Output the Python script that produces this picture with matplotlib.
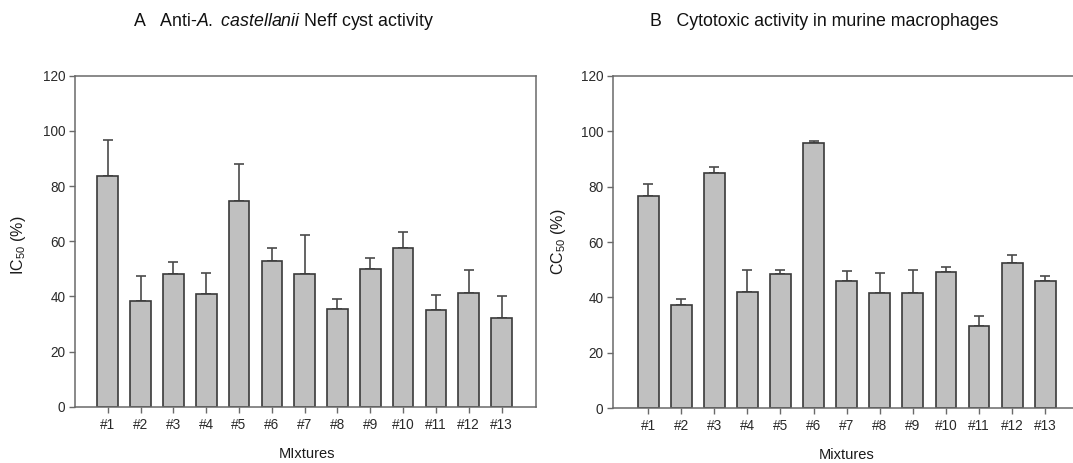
import matplotlib
matplotlib.use("Agg")
import matplotlib.pyplot as plt
import numpy as np

plt.rcParams['font.family'] = ['Liberation Sans', 'DejaVu Sans']
plt.rcParams['mathtext.fontset'] = 'custom'
plt.rcParams['mathtext.rm'] = 'Liberation Sans'
plt.rcParams['mathtext.it'] = 'Liberation Sans:italic'
plt.rcParams['mathtext.bf'] = 'Liberation Sans:bold'

categories = ["#1", "#2", "#3", "#4", "#5", "#6", "#7", "#8", "#9", "#10", "#11", "#12", "#13"]
ic50 = [83.6, 38.3, 48.0, 40.8, 74.7, 52.9, 48.2, 35.3, 49.9, 57.7, 35.1, 41.3, 32.2]
ic50_err = [13.1, 9.2, 4.4, 7.6, 13.4, 4.5, 14.2, 3.7, 4.0, 5.6, 5.4, 8.2, 7.8]
cc50 = [76.7, 37.3, 85.0, 41.9, 48.6, 95.6, 46.0, 41.7, 41.7, 49.1, 29.8, 52.3, 46.0]
cc50_err = [4.1, 2.0, 2.0, 8.0, 1.4, 0.7, 3.4, 7.1, 8.1, 1.8, 3.6, 3.1, 1.8]
yticks = [0, 20, 40, 60, 80, 100, 120]

W, H = 1073, 463
fig = plt.figure(figsize=(W / 100, H / 100), dpi=100)

spine_c = '#6a6a6a'
text_c = '#2a2a2a'
bar_fc = '#c0c0c0'
bar_ec = '#3a3a3a'


def make_panel(rect, values, errs, xlim):
    ax = fig.add_axes(rect)
    x = np.arange(len(categories))
    ax.bar(x, values, width=0.63, color=bar_fc, edgecolor=bar_ec, linewidth=1.2, zorder=2)
    ax.errorbar(x, values, yerr=[np.zeros(len(errs)), errs], fmt='none',
                ecolor='#4a4a4a', elinewidth=1.2, capsize=3.5, capthick=1.2, zorder=1)
    ax.set_xlim(*xlim)
    ax.set_ylim(0, 120)
    ax.set_yticks(yticks)
    ax.set_xticks(x)
    ax.set_xticklabels(categories)
    for s in ax.spines.values():
        s.set_color(spine_c)
        s.set_linewidth(1.1)
    ax.tick_params(axis='both', direction='out', length=4, width=1.0, color=spine_c,
                   labelsize=9.8, labelcolor=text_c)
    ax.tick_params(axis='x', pad=4)
    ax.tick_params(axis='y', pad=3)
    return ax


axA = make_panel([75 / W, 1 - 406.7 / H, 461 / W, (406.7 - 75.7) / H], ic50, ic50_err,
                 (-1.0, 13.05))
axB = make_panel([613 / W, 1 - 408.3 / H, 461 / W, (408.3 - 75.7) / H], cc50, cc50_err,
                 (-1.06, 12.87))

fig.text(283 / W, 1 - 21 / H, r"A   Anti-$\it{A.}$ $\it{castellanii}$ Neff cyst activity",
         ha='center', va='center', fontsize=12.8, color='#111111')
fig.text(824 / W, 1 - 21 / H, "B   Cytotoxic activity in murine macrophages",
         ha='center', va='center', fontsize=12.8, color='#111111')

fig.text(19 / W, 1 - 245 / H, r"IC$_{50}$ (%)", rotation=90, ha='center', va='center',
         fontsize=11.5, color='#1a1a1a')
fig.text(558 / W, 1 - 242 / H, r"CC$_{50}$ (%)", rotation=90, ha='center', va='center',
         fontsize=11.5, color='#1a1a1a')

fig.text(306.7 / W, 1 - 454 / H, "MIxtures", ha='center', va='center', fontsize=10.5, color='#1a1a1a')
fig.text(846.7 / W, 1 - 455 / H, "Mixtures", ha='center', va='center', fontsize=10.5, color='#1a1a1a')

fig.savefig("out.png", dpi=100)
